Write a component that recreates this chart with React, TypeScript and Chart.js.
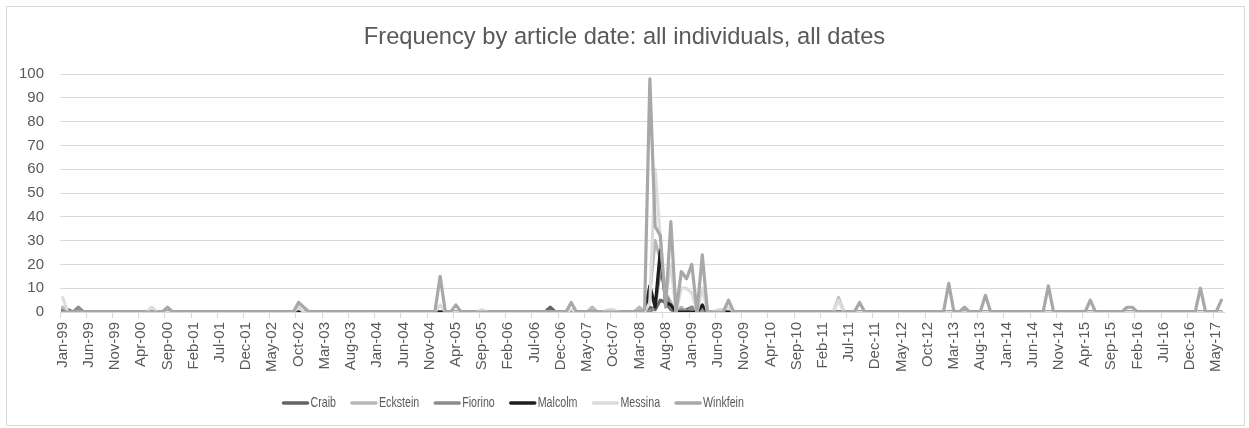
import React, { useEffect, useRef } from 'react';
import { Chart, registerables } from 'chart.js';

Chart.register(...registerables);

// ---------- categories (monthly, Jan-99 .. Jun-17) ----------
const MONTH_NAMES = ['Jan', 'Feb', 'Mar', 'Apr', 'May', 'Jun', 'Jul', 'Aug', 'Sep', 'Oct', 'Nov', 'Dec'];
const FIRST_YEAR = 1999;
const MONTH_COUNT = 222;
const categories: string[] = Array.from({ length: MONTH_COUNT }, (_, i) => {
  const yy = (FIRST_YEAR + Math.floor(i / 12)) % 100;
  return `${MONTH_NAMES[i % 12]}-${String(yy).padStart(2, '0')}`;
});
const TICK_EVERY = 5;
const tickLabels: string[] = categories.filter((_, i) => i % TICK_EVERY === 0);

const TITLE = 'Frequency by article date: all individuals, all dates';

// ---------- series values (months not listed are 0) ----------
const craibValues: Array<[string, number]> = [
  ['Jan-99', 1], ['Feb-99', 1], ['Oct-06', 2], ['May-08', 2], ['Jun-08', 1], ['Jul-08', 5],
  ['Aug-08', 4], ['Sep-08', 1], ['Dec-08', 1], ['Jan-09', 2], ['Mar-09', 1],
];
const ecksteinValues: Array<[string, number]> = [
  ['Jan-99', 2], ['Jun-07', 2], ['Mar-08', 2], ['May-08', 8], ['Jun-08', 30], ['Jul-08', 22],
  ['Aug-08', 8], ['Sep-08', 4], ['Nov-08', 2], ['May-11', 6],
];
const fiorinoValues: Array<[string, number]> = [
  ['Apr-99', 2], ['Jun-08', 2], ['Jul-08', 18], ['Aug-08', 8], ['Sep-08', 2], ['Nov-08', 1],
  ['Jan-09', 2], ['Mar-09', 1],
];
const malcolmValues: Array<[string, number]> = [
  ['May-08', 11], ['Jun-08', 2], ['Jul-08', 26], ['Aug-08', 4], ['Sep-08', 3], ['Mar-09', 3],
];
const messinaValues: Array<[string, number]> = [
  ['Jan-99', 6], ['Jun-00', 2], ['Oct-02', 2], ['Jan-05', 3], ['Sep-05', 1], ['Feb-07', 1],
  ['Sep-07', 1], ['Oct-07', 1], ['May-08', 4], ['Jun-08', 60], ['Jul-08', 31], ['Aug-08', 6],
  ['Sep-08', 20], ['Nov-08', 10], ['Dec-08', 10], ['Jan-09', 8], ['Mar-09', 10], ['Jun-09', 1],
  ['Jul-09', 1], ['Aug-09', 2], ['May-11', 5],
];
const winkfeinValues: Array<[string, number]> = [
  ['Sep-00', 2], ['Oct-02', 4], ['Nov-02', 2], ['Jan-05', 15], ['Apr-05', 3], ['Feb-07', 4],
  ['Apr-08', 1], ['May-08', 98], ['Jun-08', 36], ['Jul-08', 32], ['Aug-08', 2], ['Sep-08', 38],
  ['Nov-08', 17], ['Dec-08', 14], ['Jan-09', 20], ['Mar-09', 24], ['Aug-09', 5], ['Sep-11', 4],
  ['Feb-13', 12], ['May-13', 2], ['Sep-13', 7], ['Sep-14', 11], ['May-15', 5], ['Dec-15', 2],
  ['Jan-16', 2], ['Feb-17', 10], ['Jun-17', 5],
];

const seriesNames = ['Craib', 'Eckstein', 'Fiorino', 'Malcolm', 'Messina', 'Winkfein'];
const seriesValues = [craibValues, ecksteinValues, fiorinoValues, malcolmValues, messinaValues, winkfeinValues];
const seriesColors = ['#646464', '#b8b8b8', '#8c8c8c', '#1e1e1e', '#dcdcdc', '#a8a8a8'];

const toSeries = (pairs: Array<[string, number]>): number[] => {
  const m = new Map(pairs);
  return categories.map((c) => m.get(c) ?? 0);
};

const TEXT_COLOR = '#595959';
const GRID_COLOR = '#d9d9d9';
const FONT = '"Liberation Sans", Arial, sans-serif';
const LEGEND_FONT = '15px "Liberation Sans", Arial, sans-serif';
const LEGEND_SQUEEZE = 0.71;

const decorPlugin = {
  id: 'decor',
  beforeDraw(chart: any) {
    const { ctx } = chart;
    ctx.save();
    ctx.fillStyle = '#ffffff';
    ctx.fillRect(0, 0, chart.width, chart.height);
    ctx.strokeStyle = GRID_COLOR;
    ctx.lineWidth = 1;
    ctx.strokeRect(6.5, 6.5, 1238, 419);
    ctx.restore();
  },
  afterDraw(chart: any) {
    const { ctx } = chart;
    ctx.save();
    // title
    ctx.font = `23.7px ${FONT}`;
    ctx.fillStyle = TEXT_COLOR;
    ctx.textAlign = 'center';
    ctx.textBaseline = 'alphabetic';
    ctx.fillText(TITLE, 624.5, 43.5);
    // legend
    ctx.font = LEGEND_FONT;
    ctx.textAlign = 'left';
    ctx.textBaseline = 'middle';
    let x = 282;
    const y = 403;
    chart.data.datasets.forEach((ds: any) => {
      ctx.strokeStyle = ds.borderColor;
      ctx.lineWidth = 3.5;
      ctx.lineCap = 'round';
      ctx.beginPath();
      ctx.moveTo(x + 1.5, y);
      ctx.lineTo(x + 25.5, y);
      ctx.stroke();
      ctx.fillStyle = TEXT_COLOR;
      const tx = x + 28.5;
      ctx.save();
      ctx.translate(tx, y);
      ctx.scale(LEGEND_SQUEEZE, 1);
      ctx.fillText(ds.label, 0, 0);
      ctx.restore();
      x = tx + ctx.measureText(ds.label).width * LEGEND_SQUEEZE + 14.5;
    });
    ctx.restore();
  },
};

export default function App() {
  const canvasRef = useRef<HTMLCanvasElement | null>(null);

  useEffect(() => {
    document.body.style.margin = '0';
    const canvas = canvasRef.current;
    if (!canvas) return;
    const n = seriesNames.length;
    const chart = new Chart(canvas, {
      type: 'line',
      data: {
        labels: categories,
        datasets: seriesNames.map((name, i) => ({
          label: name,
          data: toSeries(seriesValues[i]),
          borderColor: seriesColors[i],
          backgroundColor: seriesColors[i],
          borderWidth: 3.2,
          pointRadius: 0,
          pointHoverRadius: 0,
          tension: 0,
          fill: false,
          borderCapStyle: 'round',
          borderJoinStyle: 'round',
          order: n - 1 - i,
        })),
      },
      options: {
        responsive: false,
        animation: false,
        events: [],
        layout: { padding: { left: 0, right: 25, top: 74, bottom: 56 } },
        plugins: {
          legend: { display: false },
          title: { display: false },
          tooltip: { enabled: false },
        },
        scales: {
          x: {
            type: 'category',
            offset: true,
            grid: {
              offset: true,
              drawOnChartArea: false,
              drawTicks: true,
              tickLength: 6,
              lineWidth: 1,
              color: (c: any) => (typeof c.index === 'number' && c.index % TICK_EVERY === 0 ? GRID_COLOR : 'rgba(0,0,0,0)'),
            },
            border: { display: true, color: GRID_COLOR, width: 1 },
            ticks: {
              autoSkip: false,
              minRotation: 90,
              maxRotation: 90,
              padding: 4,
              color: TEXT_COLOR,
              font: { family: FONT, size: 15 },
              callback: (_v: any, i: number) => (i % TICK_EVERY === 0 && tickLabels.includes(categories[i]) ? categories[i] : ''),
            },
            afterFit: (s: any) => {
              s.height = 60;
            },
          },
          y: {
            min: 0,
            max: 100,
            ticks: {
              stepSize: 10,
              padding: 16,
              color: TEXT_COLOR,
              font: { family: FONT, size: 15 },
            },
            grid: { color: GRID_COLOR, drawTicks: false, lineWidth: 1 },
            border: { display: false },
            afterFit: (s: any) => {
              s.width = 60;
            },
          },
        },
      },
      plugins: [decorPlugin],
    } as any);
    return () => chart.destroy();
  }, []);

  return (
    <div style={{ width: 1249, height: 428 }}>
      <canvas ref={canvasRef} width={1249} height={428} style={{ display: 'block' }} />
    </div>
  );
}
